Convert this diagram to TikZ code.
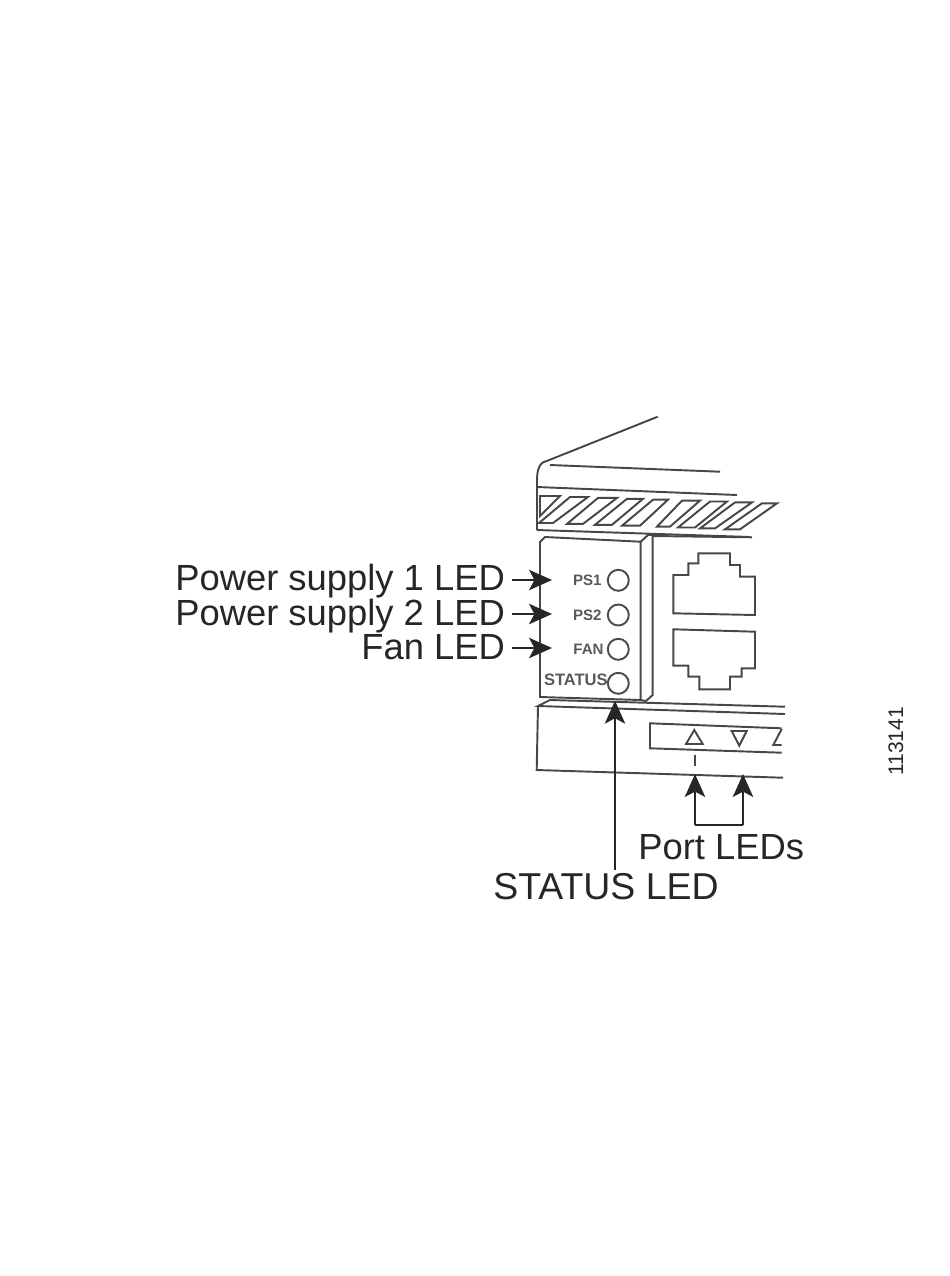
\documentclass[tikz,border=0pt]{standalone}
\usepackage{fontspec}
\setmainfont{Liberation Sans}
\usetikzlibrary{arrows.meta}
\tikzset{
    partline/.style={draw=black!72, line width=1.1pt},
    ledring/.style={circle, draw=black!70, line width=1.1pt, minimum size=0.42cm, inner sep=0pt},
    calltext/.style={anchor=base west, inner sep=0pt, text=black!85, font=\fontsize{20.7}{21}\selectfont},
    paneltext/.style={anchor=base east, inner sep=0pt, text=black!65, font=\fontsize{8.6}{9}\selectfont\bfseries},
    callout/.style={draw=black!85, line width=1.6pt, -{Stealth[length=13pt,width=11.5pt,inset=3pt]}},
}
\begin{document}
\begin{tikzpicture}[x=0.02cm,y=-0.02cm]
    \useasboundingbox (0,0) rectangle (950,1276);

    % Top cover
    \draw[partline] (657.7,416.7) -- (546.7,461) to[out=190,in=90] (537,482) -- (537,530);
    \draw[partline] (550,465) -- (720,471.7);
    \draw[partline] (537,487) -- (737,495);
    \draw[partline] (537,530) -- (750,537);

    % Vents
    \draw[partline] (540,496) -- (560,496) -- (540,516) -- cycle;
    \foreach \i/\a/\b/\c/\d in {0/539/553/588/570,1/567/583/617/598,2/595/612/643/627,3/622/640/668/653,
                                4/657/670/700/682,5/678/695/727/710,6/700/715/752/735,7/725/740/777/762} {
        \draw[partline] (\a,523+\i*0.9) -- (\d,497+\i*0.9) -- (\c,497+\i*0.9) -- (\b,523+\i*0.9) -- cycle;
    }

    % LED panel
    \draw[partline] (640.7,541.7) -- (545,537) -- (540,542) -- (540,697) -- (640.7,700) -- cycle;
    \draw[partline] (640.7,541.7) -- (648,535) -- (652.7,535) -- (652.7,695) -- (646,701) -- (640.7,700);

    % Ports
    \draw[partline] (673.3,613.3) -- (673.3,575) -- (688.3,575) -- (688.3,563.3) -- (698.3,563.3)
        -- (698.3,553.3) -- (730,553.3) -- (730,565) -- (740,565) -- (740,576.7) -- (755,576.7)
        -- (755,615) -- cycle;
    \draw[partline] (673.3,629.3) -- (755,631.7) -- (755,668.3) -- (741.7,668.3) -- (741.7,676.7)
        -- (730,676.7) -- (730,689.3) -- (699.3,689.3) -- (699.3,676.7) -- (688.3,676.7)
        -- (688.3,665.7) -- (673.3,665.7) -- cycle;

    % Lower front
    \draw[partline] (652.7,536) -- (752,537.3);
    \draw[partline] (550,700) -- (785,706.7);
    \draw[partline] (550,700) -- (538,706) -- (785,714);
    \draw[partline] (538,706) -- (536.7,770) -- (783,777.7);

    % Port window
    \draw[partline] (781.7,728.3) -- (650,723.3) -- (650,748.3) -- (781.7,752.7);
    \draw[partline] (694.3,730) -- (686,744) -- (702.7,744) -- cycle;
    \draw[partline] (731.7,731) -- (746.7,731) -- (739.3,745.7) -- cycle;
    \draw[partline] (781.7,729) -- (773.3,745) -- (781.7,745);
    \draw[partline] (695,755) -- (695,766);

    % LEDs
    \node[ledring] (ledpsa) at (618.3,580.3) {};
    \node[ledring] (ledpsb) at (618.3,615) {};
    \node[ledring] (ledfan) at (618.3,649.3) {};
    \node[ledring] (ledstatus) at (618.3,683.3) {};
    \node[paneltext] (txtpsa) at (602,585) {PS1};
    \node[paneltext] (txtpsb) at (602,620) {PS2};
    \node[paneltext] (txtfan) at (604,654) {FAN};
    \node[paneltext, font=\fontsize{9.4}{9}\selectfont\bfseries] (txtstatus) at (608,685) {STATUS};

    % Labels
    \node[calltext] (lblpsa) at (175,590) {Power supply 1 LED};
    \node[calltext] (lblpsb) at (175,625) {Power supply 2 LED};
    \node[calltext] (lblfan) at (361,659) {Fan LED};
    \node[calltext] (lblport) at (638,859) {Port LEDs};
    \node[calltext, font=\fontsize{21.3}{21}\selectfont] (lblstatus) at (493,899) {STATUS LED};
    \node[anchor=base west, inner sep=0pt, rotate=90, text=black!85, font=\fontsize{12}{12}\selectfont] (lblnum) at (903,776) {113141};

    % Arrows
    \coordinate (tippsa) at (552,580);
    \coordinate (tippsb) at (552,614);
    \coordinate (tipfan) at (552,648);
    \coordinate (tipstatus) at (615,700.7);
    \coordinate (tailstatus) at (615,870);
    \coordinate (tipporta) at (695,774);
    \coordinate (tipportb) at (743,774);
    \coordinate (bendporta) at (695,825);
    \coordinate (bendportb) at (743,825);
    \draw[callout] (lblpsa.east |- tippsa) ++(7,0) -- (tippsa);
    \draw[callout] (lblpsb.east |- tippsb) ++(7,0) -- (tippsb);
    \draw[callout] (lblfan.east |- tipfan) ++(7,0) -- (tipfan);
    \draw[callout] (tailstatus) -- (tipstatus);
    \draw[callout] (bendporta) -- (tipporta);
    \draw[callout] (bendportb) -- (tipportb);
    \draw[draw=black!85, line width=1.6pt] (bendporta) -- (bendportb);
\end{tikzpicture}
\end{document}
